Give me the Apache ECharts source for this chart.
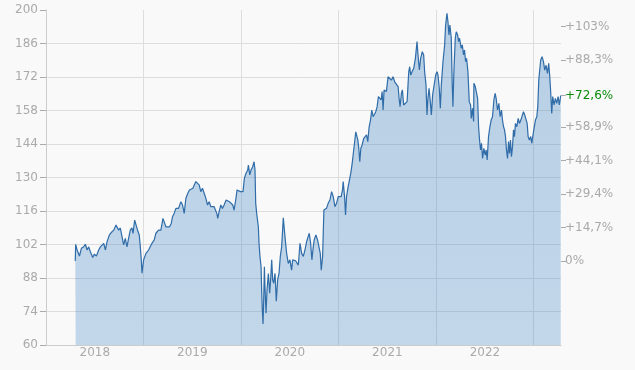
<!DOCTYPE html>
<html>
<head>
<meta charset="utf-8">
<script src="https://cdn.jsdelivr.net/npm/echarts@6/dist/echarts.min.js"></script>
<style>
html,body{margin:0;padding:0;background:#f9f9f9;}
#c{width:635px;height:370px;}
</style>
</head>
<body>
<div id="c"></div>
<script>
// time in fractional years
var years = [
2018.300,2018.304,2018.319,2018.343,2018.363,2018.387,2018.404,2018.421,2018.438,2018.455,
2018.479,2018.496,2018.517,2018.540,2018.558,2018.575,2018.592,2018.609,2018.626,2018.650,
2018.667,2018.694,2018.718,2018.728,2018.745,2018.762,2018.779,2018.796,2018.813,2018.830,
2018.847,2018.864,2018.881,2018.892,2018.909,2018.926,2018.943,2018.956,2018.967,2018.977,
2018.984,2019.001,2019.025,2019.052,2019.069,2019.086,2019.110,2019.127,2019.154,2019.178,
2019.199,2019.212,2019.229,2019.246,2019.267,2019.284,2019.297,2019.314,2019.332,2019.349,
2019.359,2019.383,2019.400,2019.417,2019.434,2019.454,2019.471,2019.489,2019.506,2019.519,
2019.536,2019.553,2019.570,2019.587,2019.604,2019.622,2019.639,2019.656,2019.673,2019.690,
2019.707,2019.724,2019.741,2019.751,2019.761,2019.775,2019.792,2019.809,2019.826,2019.847,
2019.864,2019.881,2019.898,2019.915,2019.928,2019.945,2019.959,2019.976,2019.993,2020.007,
2020.020,2020.034,2020.051,2020.068,2020.075,2020.089,2020.102,2020.119,2020.133,2020.143,
2020.150,2020.160,2020.170,2020.177,2020.184,2020.194,2020.205,2020.211,2020.218,2020.225,
2020.232,2020.239,2020.245,2020.256,2020.266,2020.280,2020.293,2020.303,2020.314,2020.324,
2020.334,2020.348,2020.361,2020.375,2020.389,2020.402,2020.416,2020.433,2020.450,2020.467,
2020.484,2020.501,2020.518,2020.529,2020.542,2020.559,2020.576,2020.587,2020.604,2020.621,
2020.638,2020.655,2020.672,2020.689,2020.699,2020.713,2020.726,2020.740,2020.750,2020.767,
2020.784,2020.801,2020.812,2020.822,2020.836,2020.849,2020.863,2020.876,2020.893,2020.911,
2020.928,2020.945,2020.962,2020.979,2020.996,2021.013,2021.026,2021.040,2021.047,2021.061,
2021.071,2021.081,2021.098,2021.115,2021.125,2021.139,2021.149,2021.163,2021.176,2021.187,
2021.197,2021.207,2021.217,2021.228,2021.241,2021.258,2021.272,2021.286,2021.299,2021.313,
2021.327,2021.340,2021.354,2021.367,2021.381,2021.395,2021.408,2021.422,2021.436,2021.446,
2021.456,2021.466,2021.480,2021.490,2021.507,2021.524,2021.541,2021.558,2021.575,2021.592,
2021.610,2021.620,2021.630,2021.644,2021.654,2021.667,2021.685,2021.702,2021.719,2021.729,
2021.739,2021.753,2021.770,2021.787,2021.804,2021.814,2021.828,2021.841,2021.858,2021.872,
2021.882,2021.896,2021.906,2021.916,2021.927,2021.940,2021.951,2021.964,2021.981,2021.995,
2022.009,2022.019,2022.032,2022.043,2022.053,2022.070,2022.087,2022.097,2022.111,2022.121,
2022.131,2022.141,2022.155,2022.165,2022.172,2022.182,2022.196,2022.206,2022.220,2022.230,
2022.240,2022.257,2022.268,2022.281,2022.291,2022.302,2022.312,2022.326,2022.339,2022.353,
2022.360,2022.373,2022.384,2022.387,2022.401,2022.414,2022.425,2022.435,2022.445,2022.455,
2022.465,2022.476,2022.489,2022.503,2022.513,2022.523,2022.537,2022.551,2022.564,2022.578,
2022.592,2022.605,2022.615,2022.629,2022.643,2022.656,2022.670,2022.680,2022.691,2022.701,
2022.711,2022.721,2022.732,2022.742,2022.752,2022.762,2022.772,2022.783,2022.793,2022.803,
2022.813,2022.827,2022.841,2022.854,2022.868,2022.881,2022.895,2022.909,2022.922,2022.933,
2022.943,2022.956,2022.970,2022.980,2022.991,2023.004,2023.018,2023.032,2023.042,2023.052,
2023.062,2023.072,2023.086,2023.100,2023.113,2023.127,2023.141,2023.154,2023.165,2023.175,
2023.185,2023.195,2023.209,2023.222,2023.236,2023.250,2023.263,2023.277
];
var prices = [
95.14,102.0,99.7,97.2,100.4,101.1,102.1,99.7,101.0,99.0,
96.6,98.0,97.2,99.7,101.0,100.4,102.5,99.7,103.2,106.0,
106.9,108.0,110.1,110.8,108.0,108.9,105.3,101.8,104.6,101.0,
104.6,108.0,108.9,106.6,112.2,111.7,107.4,106.0,101.0,95.6,
90.0,95.6,98.3,99.7,100.4,102.5,103.9,106.7,108.0,108.0,
112.9,112.2,109.4,110.0,109.4,110.8,113.6,115.0,117.1,117.8,
117.1,119.9,118.5,115.0,121.3,123.4,124.8,124.1,125.5,126.2,
128.3,127.6,126.9,124.1,125.5,123.4,121.3,118.5,119.9,117.8,
118.5,117.8,118.5,115.0,112.9,115.7,118.5,117.1,118.5,120.6,
119.9,119.9,119.2,118.5,116.4,120.6,124.8,124.8,124.1,124.8,
124.1,129.7,131.8,133.1,135.2,131.1,133.1,134.5,136.6,133.1,
119.2,115.0,114.3,109.4,102.5,96.9,92.7,83.0,74.6,68.8,
78.8,92.7,84.4,73.3,83.0,89.9,81.6,87.2,95.6,87.2,
85.8,89.9,78.3,87.2,89.9,96.9,101.0,113.2,105.3,98.3,
94.1,95.6,91.3,95.6,96.0,95.2,96.0,93.4,102.5,98.3,
97.0,99.7,103.2,103.9,106.7,102.5,95.6,101.0,103.9,106.0,
103.9,104.6,98.3,91.3,97.0,116.4,115.7,117.1,119.2,120.6,
124.1,122.0,117.8,119.2,122.0,122.7,122.0,124.8,128.3,122.0,
114.3,122.0,126.2,129.7,131.8,135.9,139.4,144.3,149.1,149.9,
145.7,142.2,136.6,142.2,143.6,146.4,147.1,147.8,145.0,151.2,
154.0,158.2,155.4,156.1,157.5,159.6,163.8,164.5,162.4,165.9,
158.2,166.6,167.3,165.9,172.1,172.8,170.7,172.1,170.0,170.7,
168.0,163.1,159.6,165.2,166.6,160.3,159.6,161.7,174.2,176.3,
172.8,174.2,175.6,179.8,186.8,181.2,175.0,179.8,182.6,181.2,
174.2,168.7,156.1,163.1,167.3,161.7,156.1,164.5,164.5,172.8,
174.2,172.8,167.3,158.9,168.7,178.4,185.4,193.7,198.6,195.1,
189.6,193.7,188.2,168.7,159.6,174.2,188.2,190.9,189.6,186.8,
188.2,184.0,185.4,181.2,183.3,178.4,179.8,174.2,161.7,160.3,
154.7,158.9,153.4,169.4,168.0,168.7,163.1,151.2,145.7,141.5,
144.3,138.0,142.2,139.4,141.5,137.3,147.1,151.2,154.0,155.4,
162.4,165.2,163.1,158.2,161.0,155.4,158.2,154.0,151.2,149.9,
147.1,141.5,138.0,145.0,140.1,145.7,138.7,142.9,149.9,147.1,
152.6,151.2,154.7,152.6,154.0,153.3,157.5,156.1,155.4,152.6,
147.1,145.7,147.1,144.3,147.1,150.6,154.0,155.4,159.6,170.7,
174.9,179.1,180.5,178.4,174.9,176.9,173.5,177.7,172.1,165.2,
156.8,163.8,160.3,163.1,161.0,163.8,160.3,164.2
];
var yearLabels = [2018, 2019, 2020, 2021, 2022];
var pctTicks = [0, 14.7, 29.4, 44.1, 58.9, 88.3, 103];

var base = prices[0];
var lastPct = (prices[prices.length - 1] / base - 1) * 100;
var yMin = 60, yMax = 200;

function fmtPct(p) {
  if (Math.abs(p) < 1e-9) return '0%';
  var s = p >= 99.95 ? p.toFixed(0) : p.toFixed(1);
  return '+' + s.replace('.', ',') + '%';
}

var data = years.map(function (t, i) { return [t, prices[i]]; });
var rightVals = pctTicks.concat([lastPct]);

var labelStyle = { color: '#aaaaaa', fontFamily: 'DejaVu Sans', fontSize: 12 };

var chart = echarts.init(document.getElementById('c'), null, { renderer: 'canvas' });
chart.setOption({
  backgroundColor: '#f9f9f9',
  animation: false,
  grid: { left: 46, right: 74, top: 10, bottom: 25 },
  xAxis: {
    type: 'value',
    min: 2018,
    max: 2023.28,
    interval: 1,
    axisLine: { show: true, onZero: false, lineStyle: { color: '#cccccc' } },
    axisTick: { show: false },
    splitLine: { show: true, showMinLine: false, showMaxLine: false, lineStyle: { color: '#dddddd', width: 1 } },
    axisLabel: Object.assign({
      margin: 2,
      customValues: yearLabels.map(function (y) { return y + 0.5; }),
      formatter: function (v) { return String(Math.floor(v)); }
    }, labelStyle)
  },
  yAxis: [
    {
      type: 'value',
      position: 'left',
      min: yMin,
      max: yMax,
      interval: 14,
      axisLine: { show: true, onZero: false, lineStyle: { color: '#cccccc' } },
      axisTick: { show: true, length: 6, lineStyle: { color: '#aaaaaa' } },
      splitLine: { show: true, showMinLine: false, showMaxLine: false, lineStyle: { color: '#dddddd', width: 1 } },
      axisLabel: Object.assign({ margin: 8 }, labelStyle)
    },
    {
      type: 'value',
      position: 'right',
      min: (yMin / base - 1) * 100,
      max: (yMax / base - 1) * 100,
      axisLine: { show: false, onZero: false },
      splitLine: { show: false },
      axisTick: { show: true, length: 5, customValues: rightVals, lineStyle: { color: '#aaaaaa' } },
      axisLabel: Object.assign({
        margin: 4,
        customValues: rightVals,
        formatter: function (v) {
          if (Math.abs(v - lastPct) < 1e-6) return '{g|' + fmtPct(v) + '}';
          return fmtPct(v);
        },
        rich: { g: { color: '#0a8a0a', fontFamily: 'DejaVu Sans', fontSize: 12 } }
      }, labelStyle)
    }
  ],
  series: [{
    type: 'line',
    yAxisIndex: 0,
    data: data,
    showSymbol: false,
    symbol: 'none',
    lineStyle: { color: '#2f6ca8', width: 1.2 },
    areaStyle: {
      origin: 'start',
      color: new echarts.graphic.LinearGradient(0, 0, 0, 1, [
        { offset: 0, color: 'rgba(55,125,190,0.49)' },
        { offset: 1, color: 'rgba(60,130,195,0.41)' }
      ])
    }
  }]
});
</script>
</body>
</html>
